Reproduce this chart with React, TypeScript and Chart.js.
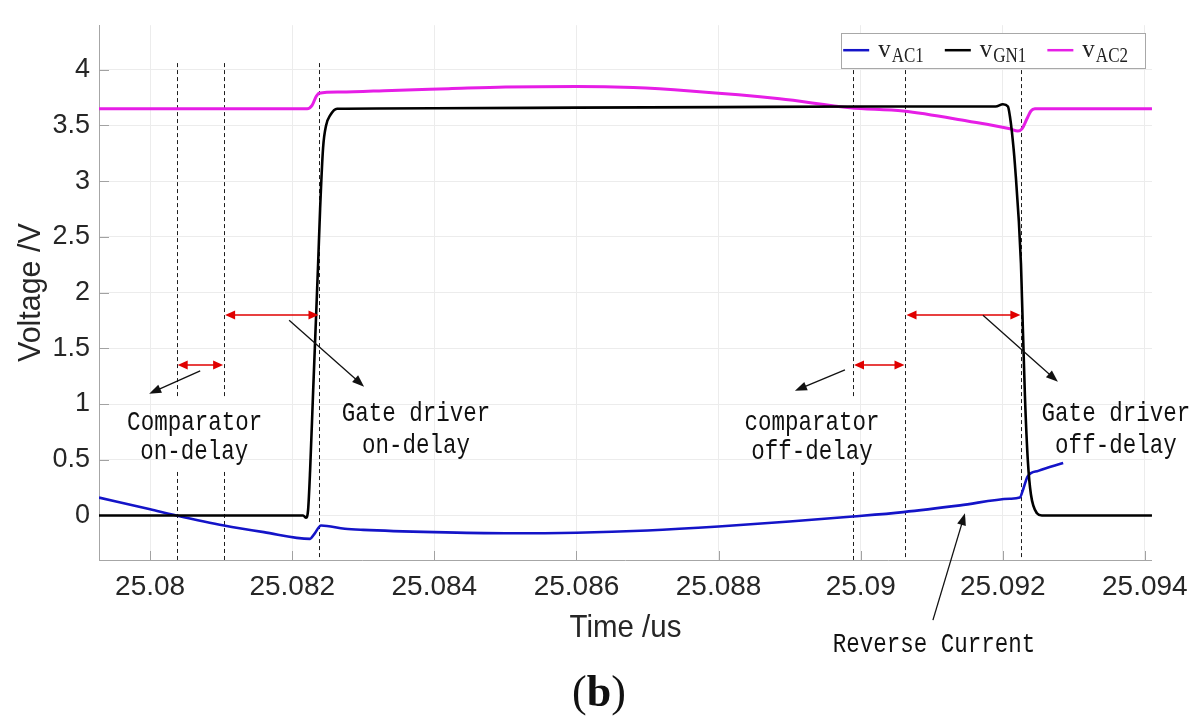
import React, { useEffect, useRef } from 'react';
import { Chart, registerables } from 'chart.js';

Chart.register(...registerables);

// ---------- axes ----------
const xMin = 25.07928;
const xMax = 25.0941;
const yMin = -0.4;
const yMax = 4.4;
const xTicks = [25.08, 25.082, 25.084, 25.086, 25.088, 25.09, 25.092, 25.094];
const xTickLabels = ['25.08', '25.082', '25.084', '25.086', '25.088', '25.09', '25.092', '25.094'];
const yTicks = [0, 0.5, 1, 1.5, 2, 2.5, 3, 3.5, 4];
const yTickLabels = ['0', '0.5', '1', '1.5', '2', '2.5', '3', '3.5', '4'];
const xTitle = 'Time /us';
const yTitle = 'Voltage /V';
const caption = 'b';

// ---------- series ----------
const seriesSymbol = 'v';
const seriesSub = ['AC1', 'GN1', 'AC2'];
const seriesColors = ['#1414c8', '#000000', '#e61ee6'];

const vac1Time = [25.07928, 25.08, 25.08037, 25.08104, 25.0816, 25.082251, 25.082307, 25.082406, 25.08274, 25.083, 25.084, 25.085, 25.086, 25.087, 25.088, 25.089, 25.08989, 25.0906, 25.0914, 25.0921, 25.09224, 25.09229, 25.09235, 25.0925, 25.09285];
const vac1Volt = [0.16, 0.055, 0.0, -0.09, -0.15, -0.21, -0.17, -0.09, -0.12, -0.13, -0.15, -0.16, -0.155, -0.135, -0.1, -0.055, -0.01, 0.03, 0.09, 0.15, 0.16, 0.24, 0.35, 0.4, 0.47];

const vgn1Time = [25.07928, 25.082153, 25.082195, 25.082223, 25.082251, 25.082293, 25.082336, 25.082364, 25.082392, 25.082434, 25.082476, 25.082533, 25.082631, 25.084, 25.086, 25.088, 25.09, 25.0919, 25.092002, 25.092073, 25.092101, 25.092129, 25.092171, 25.092256, 25.09227, 25.092312, 25.092354, 25.092396, 25.092481, 25.092551, 25.0941];
const vgn1Volt = [0, 0, -0.02, 0.05, 0.4, 1.1, 1.8, 2.26, 2.75, 3.3, 3.5, 3.59, 3.65, 3.655, 3.66, 3.665, 3.67, 3.67, 3.69, 3.67, 3.58, 3.44, 3.15, 2.26, 1.96, 1.07, 0.48, 0.19, 0.02, 0, 0];

const vac2Time = [25.07928, 25.082209, 25.082279, 25.082336, 25.082378, 25.082673, 25.0834, 25.0842, 25.085, 25.086, 25.0868, 25.0876, 25.08886, 25.08985, 25.0906, 25.0915, 25.092101, 25.092213, 25.09227, 25.09234, 25.092396, 25.092452, 25.0941];
const vac2Volt = [3.65, 3.65, 3.68, 3.76, 3.79, 3.8, 3.815, 3.83, 3.845, 3.85, 3.84, 3.81, 3.74, 3.66, 3.63, 3.54, 3.47, 3.45, 3.47, 3.56, 3.63, 3.65, 3.65];

// ---------- annotations (data coordinates) ----------
const markerTimes = [25.080373, 25.081041, 25.082383, 25.089892, 25.090631, 25.092262];
const markerBroken = [true, true, false, true, false, false];
const markerTop = 4.06;
const gapUpper = 1.06;
const gapLower = 0.39;

const delayStart = [25.080373, 25.081041, 25.089892, 25.090631];
const delayEnd = [25.081041, 25.082383, 25.090631, 25.092262];
const delayLevel = [1.35, 1.8, 1.35, 1.8];

const pointerFromT = [25.080704, 25.081956, 25.089779, 25.091721, 25.091017];
const pointerFromV = [1.298, 1.751, 1.307, 1.796, -0.94];
const pointerToT = [25.079986, 25.083011, 25.089075, 25.092776, 25.091468];
const pointerToV = [1.093, 1.156, 1.12, 1.2, 0.02];

const noteTexts = ['Comparator', 'on-delay', 'Gate driver', 'on-delay', 'comparator', 'off-delay', 'Gate driver', 'off-delay', 'Reverse Current'];
const noteT = [25.080626, 25.080619, 25.083743, 25.083743, 25.089315, 25.089315, 25.093592, 25.093592, 25.091031];
const noteV = [0.836, 0.569, 0.916, 0.622, 0.836, 0.569, 0.916, 0.622, -1.164];

// ---------- helpers ----------
function arrowHead(ctx: CanvasRenderingContext2D, x1: number, y1: number, x2: number, y2: number, len: number, half: number) {
  const a = Math.atan2(y2 - y1, x2 - x1);
  const bx = x2 - len * Math.cos(a);
  const by = y2 - len * Math.sin(a);
  ctx.beginPath();
  ctx.moveTo(x2, y2);
  ctx.lineTo(bx + half * Math.sin(a), by - half * Math.cos(a));
  ctx.lineTo(bx - half * Math.sin(a), by + half * Math.cos(a));
  ctx.closePath();
  ctx.fill();
}

function scaledText(ctx: CanvasRenderingContext2D, text: string, x: number, y: number, font: string, sx: number, sy: number, align: CanvasTextAlign, color: string, rot = 0) {
  ctx.save();
  ctx.translate(x, y);
  if (rot) ctx.rotate(rot);
  ctx.scale(sx, sy);
  ctx.font = font;
  ctx.fillStyle = color;
  ctx.textAlign = align;
  ctx.textBaseline = 'middle';
  ctx.fillText(text, 0, 0);
  ctx.restore();
}

const annotationPlugin = {
  id: 'figureAnnotations',
  beforeDatasetsDraw(chart: any) {
    const { ctx, chartArea: ca } = chart;
    const xs = chart.scales.x;
    const ys = chart.scales.y;
    ctx.save();
    // inward tick marks
    ctx.strokeStyle = '#a2a2a2';
    ctx.lineWidth = 1;
    ctx.beginPath();
    yTicks.forEach((v) => {
      const py = Math.round(ys.getPixelForValue(v)) + 0.5;
      ctx.moveTo(ca.left, py);
      ctx.lineTo(ca.left + 10, py);
    });
    xTicks.forEach((v) => {
      const px = Math.round(xs.getPixelForValue(v)) + 0.5;
      ctx.moveTo(px, ca.bottom);
      ctx.lineTo(px, ca.bottom - 9);
    });
    ctx.stroke();
    // dashed marker lines
    ctx.strokeStyle = '#1e1e1e';
    ctx.setLineDash([4, 3]);
    markerTimes.forEach((t, i) => {
      const px = Math.round(xs.getPixelForValue(t)) + 0.5;
      const top = ys.getPixelForValue(markerTop);
      ctx.beginPath();
      if (markerBroken[i]) {
        ctx.moveTo(px, top);
        ctx.lineTo(px, ys.getPixelForValue(gapUpper));
        ctx.moveTo(px, ys.getPixelForValue(gapLower));
        ctx.lineTo(px, ca.bottom);
      } else {
        ctx.moveTo(px, top);
        ctx.lineTo(px, ca.bottom);
      }
      ctx.stroke();
    });
    ctx.restore();
  },
  afterDraw(chart: any) {
    const { ctx, chartArea: ca } = chart;
    const xs = chart.scales.x;
    const ys = chart.scales.y;
    ctx.save();

    // red double arrows
    ctx.strokeStyle = '#e00000';
    ctx.fillStyle = '#e00000';
    ctx.lineWidth = 1.5;
    delayStart.forEach((t, i) => {
      const x1 = xs.getPixelForValue(t) + 1;
      const x2 = xs.getPixelForValue(delayEnd[i]) - 1;
      const y = ys.getPixelForValue(delayLevel[i]);
      ctx.beginPath();
      ctx.moveTo(x1 + 6, y);
      ctx.lineTo(x2 - 6, y);
      ctx.stroke();
      arrowHead(ctx, x2, y, x1, y, 10, 4.5);
      arrowHead(ctx, x1, y, x2, y, 10, 4.5);
    });

    // black pointer arrows
    ctx.strokeStyle = '#111';
    ctx.fillStyle = '#111';
    ctx.lineWidth = 1.3;
    pointerFromT.forEach((t, i) => {
      const x1 = xs.getPixelForValue(t);
      const y1 = ys.getPixelForValue(pointerFromV[i]);
      const x2 = xs.getPixelForValue(pointerToT[i]);
      const y2 = ys.getPixelForValue(pointerToV[i]);
      const a = Math.atan2(y2 - y1, x2 - x1);
      ctx.beginPath();
      ctx.moveTo(x1, y1);
      ctx.lineTo(x2 - 8 * Math.cos(a), y2 - 8 * Math.sin(a));
      ctx.stroke();
      arrowHead(ctx, x1, y1, x2, y2, 12, 4.5);
    });

    // annotation texts
    noteTexts.forEach((txt, i) => {
      scaledText(ctx, txt, xs.getPixelForValue(noteT[i]), ys.getPixelForValue(noteV[i]),
        '22.5px "Liberation Mono"', 1, 1.22, 'center', '#111');
    });

    // legend
    const boxR = ca.right - 7;
    const boxTop = ca.top + 8;
    const boxH = 35;
    const vFont = '25px "Liberation Serif"';
    const subFont = '17px "Liberation Serif"';
    const segLen = 26;
    const gapSegText = 9;
    const gapEntry = 21;
    const widths = seriesSub.map((s) => {
      ctx.font = vFont;
      const w1 = ctx.measureText(seriesSymbol).width;
      ctx.font = subFont;
      return w1 + 1 + ctx.measureText(s).width;
    });
    let total = 2;
    widths.forEach((w, i) => { total += segLen + gapSegText + w + (i < widths.length - 1 ? gapEntry : 17); });
    const boxL = boxR - total;
    ctx.fillStyle = '#ffffff';
    ctx.fillRect(boxL, boxTop, total, boxH);
    ctx.strokeStyle = '#a8a8a8';
    ctx.lineWidth = 1;
    ctx.strokeRect(Math.round(boxL) + 0.5, Math.round(boxTop) + 0.5, Math.round(total), boxH);
    let cx = boxL + 2;
    seriesSub.forEach((s, i) => {
      const ly = boxTop + 17;
      ctx.strokeStyle = seriesColors[i];
      ctx.lineWidth = 2.5;
      ctx.beginPath();
      ctx.moveTo(cx, ly);
      ctx.lineTo(cx + segLen, ly);
      ctx.stroke();
      cx += segLen + gapSegText;
      ctx.fillStyle = '#222';
      ctx.textAlign = 'left';
      ctx.textBaseline = 'alphabetic';
      ctx.font = vFont;
      ctx.fillText(seriesSymbol, cx, boxTop + 24);
      const vw = ctx.measureText(seriesSymbol).width;
      ctx.save();
      ctx.translate(cx + vw + 1, boxTop + 29);
      ctx.scale(1, 1.25);
      ctx.font = subFont;
      ctx.fillText(s, 0, 0);
      ctx.restore();
      cx += widths[i] + gapEntry;
    });

    // axis titles
    scaledText(ctx, yTitle, 31, (ca.top + ca.bottom) / 2, '32px "Liberation Sans"', 0.95, 1, 'center', '#262626', -Math.PI / 2);
    scaledText(ctx, xTitle, (ca.left + ca.right) / 2, ca.bottom + 68, '32px "Liberation Sans"', 0.92, 1, 'center', '#262626');

    // caption (b)
    const W = chart.width;
    const capY = ca.bottom + 146;
    ctx.fillStyle = '#111';
    ctx.textBaseline = 'alphabetic';
    ctx.textAlign = 'left';
    ctx.font = '44px "Liberation Serif"';
    const pw = ctx.measureText('(').width;
    ctx.font = 'bold 44px "Liberation Serif"';
    const bw = ctx.measureText(caption).width;
    let sx = W / 2 - (pw * 2 + bw) / 2;
    ctx.font = '44px "Liberation Serif"';
    ctx.fillText('(', sx, capY);
    ctx.font = 'bold 44px "Liberation Serif"';
    ctx.fillText(caption, sx + pw, capY);
    ctx.font = '44px "Liberation Serif"';
    ctx.fillText(')', sx + pw + bw, capY);

    ctx.restore();
  },
};

export default function App() {
  const ref = useRef<HTMLCanvasElement>(null);
  useEffect(() => {
    const mk = (t: number[], v: number[]) => t.map((x, i) => ({ x, y: v[i] }));
    const chart = new Chart(ref.current as HTMLCanvasElement, {
      type: 'line',
      data: {
        datasets: [
          { label: seriesSymbol + seriesSub[1], data: mk(vgn1Time, vgn1Volt), borderColor: seriesColors[1], borderWidth: 2.6 },
          { label: seriesSymbol + seriesSub[2], data: mk(vac2Time, vac2Volt), borderColor: seriesColors[2], borderWidth: 3 },
          { label: seriesSymbol + seriesSub[0], data: mk(vac1Time, vac1Volt), borderColor: seriesColors[0], borderWidth: 2.6 },
        ],
      },
      options: {
        responsive: false,
        animation: false,
        devicePixelRatio: 1,
        layout: { padding: { top: 20, right: 46, left: 0, bottom: 0 } },
        elements: {
          point: { radius: 0 },
          line: { cubicInterpolationMode: 'monotone', fill: false },
        },
        plugins: { legend: { display: false }, tooltip: { enabled: false }, title: { display: false } },
        scales: {
          x: {
            type: 'linear',
            min: xMin,
            max: xMax,
            afterFit: (s: any) => { s.height = 158; },
            afterBuildTicks: (s: any) => { s.ticks = xTicks.map((value) => ({ value })); },
            grid: { color: '#ececec', lineWidth: 1, drawTicks: false },
            border: { color: '#a6a6a6', width: 1 },
            ticks: {
              autoSkip: false,
              maxRotation: 0,
              padding: 10,
              color: '#262626',
              font: { family: '"Liberation Sans"', size: 28 },
              callback: (_v: any, i: number) => xTickLabels[i],
            },
          },
          y: {
            type: 'linear',
            min: yMin,
            max: yMax,
            afterFit: (s: any) => { s.width = 99; },
            afterBuildTicks: (s: any) => { s.ticks = yTicks.map((value) => ({ value })); },
            grid: { color: '#ececec', lineWidth: 1, drawTicks: false },
            border: { color: '#a6a6a6', width: 1 },
            ticks: {
              padding: 9,
              color: '#262626',
              font: { family: '"Liberation Sans"', size: 27 },
              callback: (_v: any, i: number) => yTickLabels[i],
            },
          },
        },
      },
      plugins: [annotationPlugin],
    } as any);
    return () => chart.destroy();
  }, []);
  return (
    <div style={{ position: 'absolute', left: 0, top: 0, width: 1198, height: 718, background: '#ffffff' }}>
      <canvas ref={ref} width={1198} height={718} style={{ display: 'block' }} />
    </div>
  );
}
